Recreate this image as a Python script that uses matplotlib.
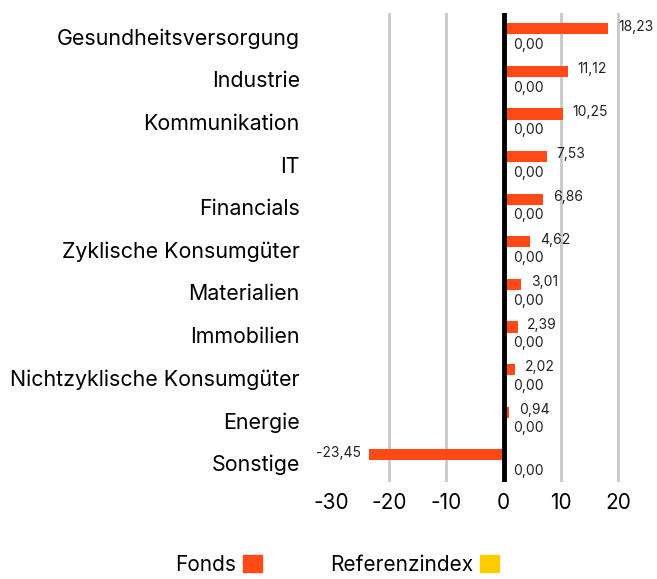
import matplotlib
matplotlib.use("Agg")
import matplotlib.pyplot as plt
from matplotlib.patches import Patch
import numpy as np

plt.rcParams['font.family'] = ['Inter', 'DejaVu Sans']

categories = ['Gesundheitsversorgung', 'Industrie', 'Kommunikation', 'IT', 'Financials',
              'Zyklische Konsumgüter', 'Materialien', 'Immobilien',
              'Nichtzyklische Konsumgüter', 'Energie', 'Sonstige']
fonds = [18.23, 11.12, 10.25, 7.53, 6.86, 4.62, 3.01, 2.39, 2.02, 0.94, -23.45]
referenz = [0.00] * 11
ticks = [-30, -20, -10, 0, 10, 20]

c_fonds = '#ff4a17'
c_ref = '#ffcc00'

def fmt(v):
    return ('%.2f' % v).replace('.', ',')

fig = plt.figure(figsize=(6.57, 5.79), dpi=100)
ax = fig.add_axes([0.505, 0.1675, 0.48, 0.81])

y = np.arange(len(categories))
off = 0.19
h = 0.26
ax.barh(y - off, fonds, height=h, color=c_fonds, zorder=3)
ax.barh(y + off, referenz, height=h, color=c_ref, zorder=3)

for yi, v in zip(y, fonds):
    if v >= 0:
        ax.annotate(fmt(v), (v, yi - off - 0.05), xytext=(7, 0), textcoords='offset points',
                    ha='left', va='center', fontsize=10, color='#222222')
    else:
        ax.annotate(fmt(v), (v, yi - off - 0.05), xytext=(-6, 0), textcoords='offset points',
                    ha='right', va='center', fontsize=10, color='#222222')
for yi, v in zip(y, referenz):
    ax.annotate(fmt(v), (max(v, 0), yi + off), xytext=(7, 0), textcoords='offset points',
                ha='left', va='center', fontsize=10, color='#222222')

ax.set_xlim(-30, 25)
ax.set_ylim(10.45, -0.56)
ax.set_xticks(ticks)
ax.set_xticklabels([str(t) for t in ticks], fontsize=15)
ax.set_yticks(y)
ax.set_yticklabels(categories, fontsize=15.4)
ax.tick_params(length=0, pad=8)
ax.tick_params(axis='y', pad=23)

for t in [-20, -10, 10, 20]:
    ax.axvline(t, color='#c8c8c8', linewidth=2, zorder=1)
ax.axvline(0, color='black', linewidth=3.5, zorder=4)
for s in ax.spines.values():
    s.set_visible(False)

handles = [Patch(color=c_fonds), Patch(color=c_ref)]
fig.legend(handles, ['Fonds', 'Referenzindex'], loc='center', bbox_to_anchor=(0.513, 0.025),
           ncol=2, frameon=False, markerfirst=False, fontsize=15,
           handlelength=0.91, handleheight=0.91, columnspacing=3.3, handletextpad=0.3)

fig.savefig('out.png', dpi=100)
